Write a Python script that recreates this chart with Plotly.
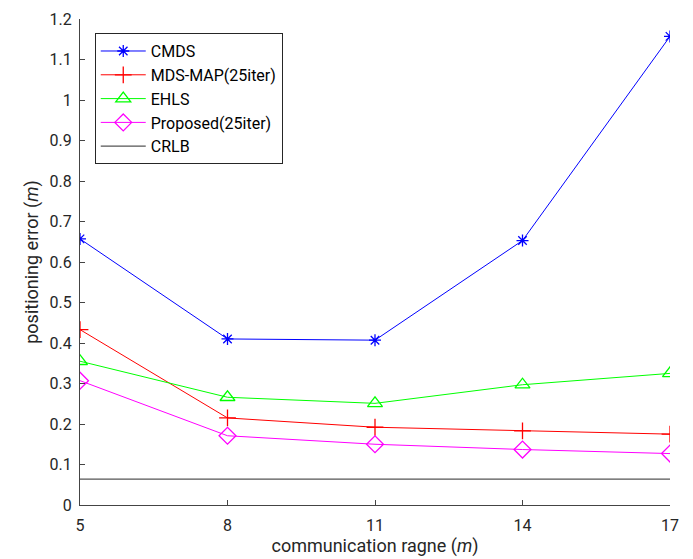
import plotly.graph_objects as go

x_range = [5, 8, 11, 14, 17]
cmds = [0.657, 0.410, 0.407, 0.653, 1.157]
mds_map = [0.433, 0.215, 0.192, 0.183, 0.175]
ehls = [0.355, 0.266, 0.251, 0.297, 0.325]
proposed = [0.307, 0.171, 0.150, 0.137, 0.127]
crlb = [0.064, 0.064, 0.064, 0.064, 0.064]
y_ticks = [0, 0.1, 0.2, 0.3, 0.4, 0.5, 0.6, 0.7, 0.8, 0.9, 1, 1.1, 1.2]
y_labels = ["0", "0.1", "0.2", "0.3", "0.4", "0.5", "0.6", "0.7", "0.8", "0.9", "1", "1.1", "1.2"]

fig = go.Figure()
fig.add_trace(go.Scatter(x=x_range, y=cmds, name="CMDS", mode="lines+markers",
                         line=dict(color="#0000ff", width=1),
                         marker=dict(symbol="asterisk-open", size=10, color="#0000ff",
                                     line=dict(color="#0000ff", width=1.3))))
fig.add_trace(go.Scatter(x=x_range, y=mds_map, name="MDS-MAP(25iter)", mode="lines+markers",
                         line=dict(color="#ff0000", width=1),
                         marker=dict(symbol="cross-thin-open", size=12, color="#ff0000",
                                     line=dict(color="#ff0000", width=1.3))))
fig.add_trace(go.Scatter(x=x_range, y=ehls, name="EHLS", mode="lines+markers",
                         line=dict(color="#00ff00", width=1),
                         marker=dict(symbol="triangle-up-open", size=13, color="#00ff00",
                                     line=dict(color="#00ff00", width=1.3))))
fig.add_trace(go.Scatter(x=x_range, y=proposed, name="Proposed(25iter)", mode="lines+markers",
                         line=dict(color="#ff00ff", width=1),
                         marker=dict(symbol="diamond-open", size=13, color="#ff00ff",
                                     line=dict(color="#ff00ff", width=1.3))))
fig.add_trace(go.Scatter(x=x_range, y=crlb, name="CRLB", mode="lines",
                         line=dict(color="#555555", width=1.3)))

axis_common = dict(showgrid=False, zeroline=False, showline=True, linecolor="#444444",
                   linewidth=1, ticks="inside", ticklen=5, tickcolor="#444444",
                   tickfont=dict(family="Roboto", size=16, color="#262626"),
                   mirror=False, automargin=False)

fig.update_layout(
    template="none",
    width=693, height=559,
    margin=dict(l=72, r=31, t=11, b=62, autoexpand=False),
    plot_bgcolor="white", paper_bgcolor="white",
    font=dict(family="Roboto", color="#262626"),
    xaxis=dict(range=[5, 17], tickvals=x_range, ticktext=[str(v) for v in x_range],
               ticklabelstandoff=6,
               title=dict(text="communication ragne (<i>m</i>)", font=dict(size=18), standoff=4),
               **axis_common),
    yaxis=dict(range=[0, 1.2], tickvals=y_ticks, ticktext=y_labels,
               ticklabelstandoff=4,
               title=dict(text="positioning error (<i>m</i>)", font=dict(size=18), standoff=6),
               **axis_common),
    legend=dict(x=0.025, y=0.971, xanchor="left", yanchor="top",
                bordercolor="#262626", borderwidth=1, bgcolor="white",
                font=dict(family="Roboto", size=16, color="#000000"),
                tracegroupgap=0, itemwidth=45),
    showlegend=True,
)

fig.write_html("out.html")
